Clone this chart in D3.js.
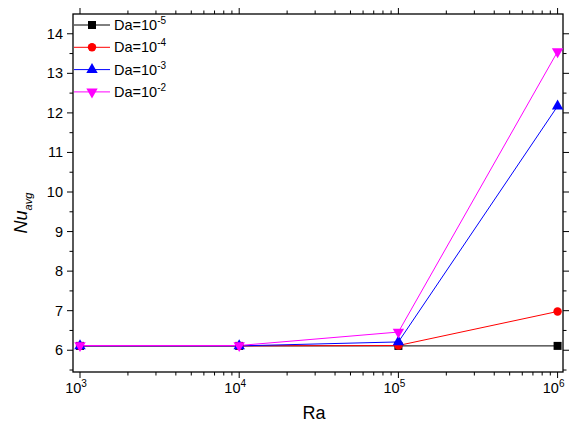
<!DOCTYPE html>
<html>
<head>
<meta charset="utf-8">
<script src="https://cdn.jsdelivr.net/npm/d3@7"></script>
<style>
  html, body { margin: 0; padding: 0; background: #fff; }
  svg { display: block; font-family: Arial, "Liberation Sans", sans-serif; }
</style>
</head>
<body>
<svg id="chart" width="569" height="423"></svg>
<script>
// Rayleigh numbers (x) and average Nusselt number per Darcy number
const raValues = [1e3, 1e4, 1e5, 1e6];
const seriesNames = ["-5", "-4", "-3", "-2"];
const nuDa5 = [6.11, 6.11, 6.11, 6.11];
const nuDa4 = [6.11, 6.11, 6.12, 6.98];
const nuDa3 = [6.11, 6.11, 6.21, 12.17];
const nuDa2 = [6.12, 6.12, 6.46, 13.55];
const xTickExps = [3, 4, 5, 6];
const yTicks = [6, 7, 8, 9, 10, 11, 12, 13, 14];

const series = [
  { exp: seriesNames[0], values: nuDa5, color: "#000000", symbol: d3.symbolSquare, size: 64, rot: 0 },
  { exp: seriesNames[1], values: nuDa4, color: "#ff0000", symbol: d3.symbolCircle, size: 56, rot: 0 },
  { exp: seriesNames[2], values: nuDa3, color: "#0000ff", symbol: d3.symbolTriangle, size: 56, rot: 0 },
  { exp: seriesNames[3], values: nuDa2, color: "#ff00ff", symbol: d3.symbolTriangle, size: 56, rot: 180 }
];

const svg = d3.select("#chart");
const mLeft = 73, mRight = 563, mTop = 14, mBottom = 372;

const x = d3.scaleLog().domain([Math.pow(10, 2.956), Math.pow(10, 6.034)]).range([mLeft, mRight]);
const y = d3.scaleLinear().domain([5.45, 14.5]).range([mBottom, mTop]);

// Minor ticks
const xMinor = [];
for (let e = 2; e <= 6; e++) for (let m = 2; m <= 9; m++) {
  const v = m * Math.pow(10, e);
  if (v > x.domain()[0] && v < x.domain()[1]) xMinor.push(v);
}
const yMinor = d3.range(5.5, 14.5, 1);

const axisG = svg.append("g").attr("stroke", "#000").attr("stroke-width", 1);

// Frame
svg.append("rect")
  .attr("x", mLeft).attr("y", mTop)
  .attr("width", mRight - mLeft).attr("height", mBottom - mTop)
  .attr("fill", "none").attr("stroke", "#000").attr("stroke-width", 1.3);

const majorLen = 6, minorLen = 3.5;
const xMajor = xTickExps.map(e => Math.pow(10, e));

// Bottom and top ticks (outward)
[[mBottom, 1], [mTop, -1]].forEach(([yy, dir]) => {
  axisG.selectAll(null).data(xMajor).enter().append("line")
    .attr("x1", d => x(d)).attr("x2", d => x(d))
    .attr("y1", yy).attr("y2", yy + dir * majorLen);
  axisG.selectAll(null).data(xMinor).enter().append("line")
    .attr("x1", d => x(d)).attr("x2", d => x(d))
    .attr("y1", yy).attr("y2", yy + dir * minorLen);
});
// Left and right ticks (outward)
[[mLeft, -1], [mRight, 1]].forEach(([xx, dir]) => {
  axisG.selectAll(null).data(yTicks).enter().append("line")
    .attr("y1", d => y(d)).attr("y2", d => y(d))
    .attr("x1", xx).attr("x2", xx + dir * majorLen);
  axisG.selectAll(null).data(yMinor).enter().append("line")
    .attr("y1", d => y(d)).attr("y2", d => y(d))
    .attr("x1", xx).attr("x2", xx + dir * minorLen);
});

// Y tick labels
svg.append("g").selectAll("text").data(yTicks).enter().append("text")
  .attr("x", mLeft - 10).attr("y", d => y(d) + 5)
  .attr("text-anchor", "end").attr("font-size", 14.5).attr("fill", "#000")
  .text(d => d);

// X tick labels: 10 with superscript exponent
const xl = svg.append("g").selectAll("text").data(xTickExps).enter().append("text")
  .attr("x", d => x(Math.pow(10, d)) - 4).attr("y", mBottom + 21)
  .attr("text-anchor", "middle").attr("font-size", 14.5).attr("fill", "#000");
xl.append("tspan").text("10");
xl.append("tspan").attr("font-size", 10).attr("dy", -6).text(d => d);

// Axis titles
svg.append("text").attr("x", (mLeft + mRight) / 2 - 4).attr("y", 419)
  .attr("text-anchor", "middle").attr("font-size", 18).text("Ra");
const yl = svg.append("text")
  .attr("transform", `translate(27, ${(mTop + mBottom) / 2 + 20}) rotate(-90)`)
  .attr("text-anchor", "middle").attr("font-size", 18).attr("font-style", "italic");
yl.append("tspan").text("Nu");
yl.append("tspan").attr("font-size", 11).attr("dy", 5).text("avg");

// Lines and markers
const line = d3.line().x((d, i) => x(raValues[i])).y(d => y(d));
const plot = svg.append("g");
series.forEach(s => {
  plot.append("path").datum(s.values)
    .attr("d", line).attr("fill", "none")
    .attr("stroke", s.color).attr("stroke-width", 1);
});
series.forEach(s => {
  plot.selectAll(null).data(s.values).enter().append("path")
    .attr("d", d3.symbol().type(s.symbol).size(s.size))
    .attr("transform", (d, i) => `translate(${x(raValues[i])},${y(d)}) rotate(${s.rot})`)
    .attr("fill", s.color);
});

// Legend
const legend = svg.append("g");
series.forEach((s, i) => {
  const ly = 25 + i * 22.3;
  legend.append("line").attr("x1", 74).attr("x2", 110).attr("y1", ly).attr("y2", ly)
    .attr("stroke", s.color).attr("stroke-width", 1);
  legend.append("path")
    .attr("d", d3.symbol().type(s.symbol).size(s.size))
    .attr("transform", `translate(92,${ly}) rotate(${s.rot})`)
    .attr("fill", s.color);
  const t = legend.append("text").attr("x", 114).attr("y", ly + 5).attr("font-size", 14.5);
  t.append("tspan").text("Da=10");
  t.append("tspan").attr("font-size", 10).attr("dy", -6).text(s.exp);
});
</script>
</body>
</html>
